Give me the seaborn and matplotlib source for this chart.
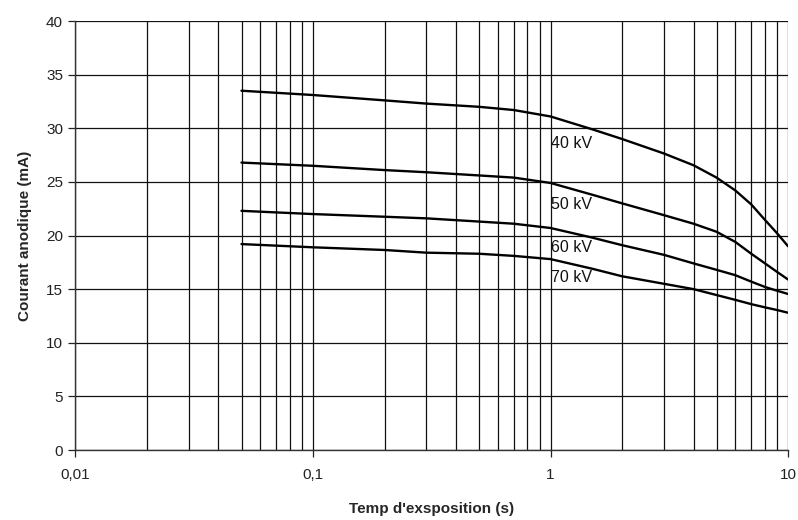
import matplotlib
matplotlib.use("Agg")
import matplotlib.pyplot as plt
import matplotlib.ticker as mticker
import seaborn as sns
import pandas as pd
import numpy as np

t = [0.05, 0.1, 0.2, 0.3, 0.5, 0.7, 1, 1.5, 2, 3, 4, 5, 6, 7, 8, 9, 10]
kv40 = [33.5, 33.1, 32.6, 32.3, 32.0, 31.7, 31.1, 29.9, 29.0, 27.65, 26.55, 25.4, 24.2, 22.9, 21.45, 20.2, 19.0]
kv50 = [26.8, 26.5, 26.1, 25.9, 25.6, 25.4, 24.9, 23.8, 23.0, 21.9, 21.1, 20.35, 19.4, 18.3, 17.4, 16.6, 15.9]
kv60 = [22.3, 22.0, 21.75, 21.6, 21.3, 21.1, 20.7, 19.8, 19.1, 18.2, 17.4, 16.8, 16.3, 15.7, 15.2, 14.85, 14.55]
kv70 = [19.2, 18.9, 18.65, 18.4, 18.3, 18.1, 17.8, 16.9, 16.2, 15.5, 15.0, 14.45, 14.0, 13.6, 13.3, 13.05, 12.8]
series_names = ["40 kV", "50 kV", "60 kV", "70 kV"]
label_x = [1.0, 1.0, 1.0, 1.0]
label_y = [28.6, 22.9, 18.9, 16.1]

frames = []
for name, vals in zip(series_names, [kv40, kv50, kv60, kv70]):
    frames.append(pd.DataFrame({"t": t, "I": vals, "kV": name}))
df = pd.concat(frames, ignore_index=True)

sns.set_style("white")
plt.rcParams['font.family'] = ['Liberation Sans', 'DejaVu Sans']

fig = plt.figure(figsize=(7.98, 5.2), dpi=100)
ax = fig.add_axes([0.0946, 0.1346, 0.8929, 0.825])

sns.lineplot(data=df, x="t", y="I", hue="kV", palette=["black"] * 4,
             linewidth=1.7, legend=False, ax=ax, zorder=3)

ax.set_xscale("log")
ax.set_xlim(0.01, 10)
ax.set_ylim(0, 40)
ax.set_yticks(np.arange(0, 41, 5))
ax.xaxis.set_major_locator(mticker.FixedLocator([0.01, 0.1, 1, 10]))
ax.xaxis.set_minor_locator(mticker.LogLocator(base=10, subs=np.arange(2, 10), numticks=20))
ax.xaxis.set_major_formatter(mticker.FixedFormatter(["0,01", "0,1", "1", "10"]))
ax.xaxis.set_minor_formatter(mticker.NullFormatter())

ax.grid(True, which="major", axis="both", color="#111111", linewidth=0.9)
ax.grid(True, which="minor", axis="x", color="#111111", linewidth=0.9)
ax.set_axisbelow(True)

for s in ["top", "right"]:
    ax.spines[s].set_visible(False)
for s in ["left", "bottom"]:
    ax.spines[s].set_color("#333333")
    ax.spines[s].set_linewidth(1.0)

ax.tick_params(axis="both", which="major", direction="out", length=5, width=0.9,
               colors="#222222", labelsize=11, pad=4, left=True, bottom=True)
ax.tick_params(axis="x", which="major", pad=8)
ax.tick_params(axis="x", which="minor", length=0)

ax.set_xlabel("Temp d'exsposition (s)", fontsize=11, fontweight="bold", labelpad=14)
ax.set_ylabel("Courant anodique (mA)", fontsize=11, fontweight="bold", labelpad=10)

for name, lx, ly in zip(series_names, label_x, label_y):
    ax.text(lx, ly, name, fontsize=11.5, ha="left", va="center", color="#111111", zorder=4)

fig.savefig("out.png", dpi=100, facecolor="white")
